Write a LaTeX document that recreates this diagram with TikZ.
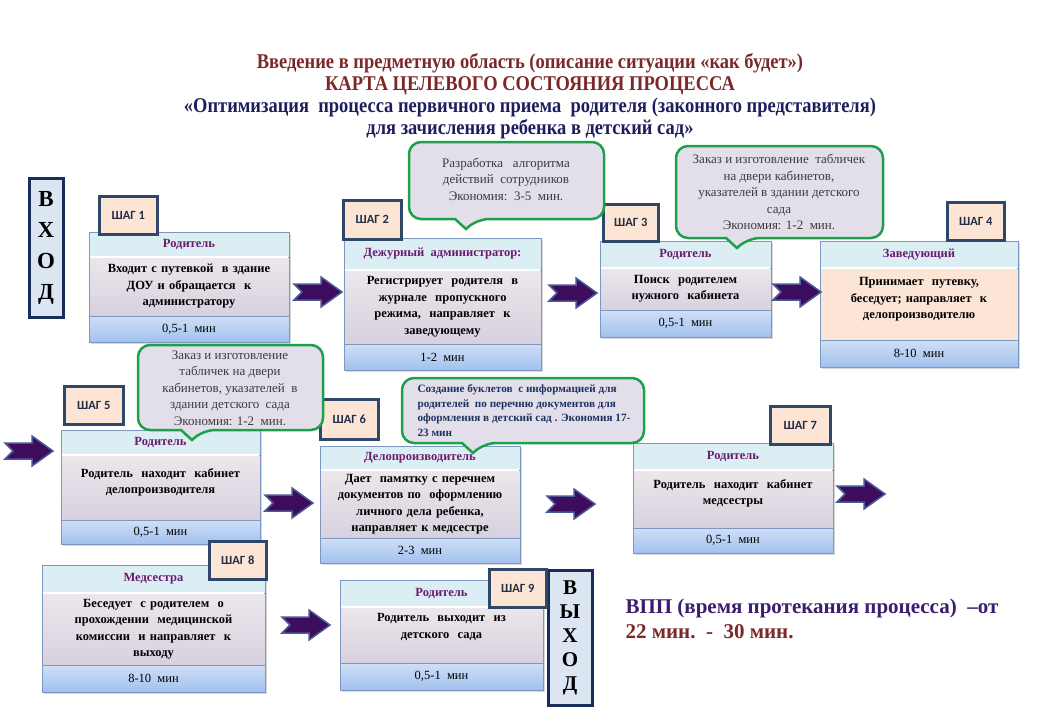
\documentclass[tikz,border=0pt]{standalone}
\usepackage{fontspec}
\setmainfont{Liberation Serif}
\newfontfamily\tabfont{Carlito}
\newfontfamily\titlefont[FakeStretch=0.88]{Liberation Serif}
\usetikzlibrary{positioning,shadows}

\definecolor{cardline}{RGB}{125,152,190}
\definecolor{headfill}{RGB}{219,238,244}
\definecolor{bodytop}{RGB}{236,231,236}
\definecolor{bodybot}{RGB}{214,209,221}
\definecolor{foottop}{RGB}{207,223,246}
\definecolor{footbot}{RGB}{162,193,238}
\definecolor{peach}{RGB}{252,229,213}
\definecolor{tabline}{RGB}{47,72,105}
\definecolor{tabtext}{RGB}{35,45,70}
\definecolor{rolecol}{RGB}{110,25,110}
\definecolor{callfill}{RGB}{226,223,234}
\definecolor{callline}{RGB}{30,160,75}
\definecolor{calltext}{RGB}{60,60,60}
\definecolor{arrfill}{RGB}{62,12,92}
\definecolor{arrline}{RGB}{75,90,150}
\definecolor{maroon}{RGB}{125,40,40}
\definecolor{navy}{RGB}{30,30,95}
\definecolor{vppcol}{RGB}{60,30,110}
\definecolor{gatefill}{RGB}{220,230,242}
\definecolor{gateline}{RGB}{25,45,90}
\definecolor{notecol}{RGB}{30,50,95}

\newcommand\pushup[1]{\rule[-#1]{0pt}{0pt}}
\newcommand\bubble[5]{\draw[bubbleline] ({(#1+#3)/2},#2) [rounded corners=12pt] -- (#3,#2) -- (#3,#4) -- ({#5+11},#4) [sharp corners] -- (#5,{#4+10}) -- ({#5-11},#4) [rounded corners=12pt] -- (#1,#4) -- (#1,#2) -- cycle;}

\tikzset{
  card/.style={draw=cardline, line width=0.7pt, outer sep=0pt, minimum width=#1,
    drop shadow={shadow xshift=2pt, shadow yshift=-2pt, opacity=0.3}},
  head/.style={card=#1, fill=headfill, anchor=north west, text=rolecol,
    font=\fontsize{12.5}{14}\selectfont\bfseries},
  body/.style={card=#1, top color=bodytop, bottom color=bodybot, align=center,
    font=\fontsize{12.5}{16.5}\selectfont\bfseries},
  foot/.style={card=#1, top color=foottop, bottom color=footbot,
    font=\fontsize{12.5}{14}\selectfont},
  tab/.style={draw=tabline, line width=2.5pt, fill=peach, anchor=north west, inner sep=0pt,
    text=tabtext, font=\tabfont\bfseries\fontsize{12.5}{14}\selectfont},
  gate/.style={draw=gateline, line width=3pt, fill=gatefill, align=center, inner sep=0pt,
    font=\fontsize{23}{31}\selectfont\bfseries},
  bubbleline/.style={draw=callline, line width=2.5pt, fill=callfill},
  bubbletext/.style={align=center, text=calltext, font=\fontsize{13}{16.5}\selectfont},
  headline/.style={align=center, font=\titlefont\bfseries\fontsize{21}{22}\selectfont},
  vpp/.style={anchor=west, font=\fontsize{21}{24}\selectfont\bfseries},
  blockarrow/.pic={\draw[fill=arrfill, draw=arrline, line width=1.5pt, line join=miter]
    (-24,-8) -- (3,-8) -- (3,-15) -- (24,0) -- (3,15) -- (3,8) -- (-24,8) -- (-16,0) -- cycle;}
}

\begin{document}
\begin{tikzpicture}[x=1pt,y=-1pt]
\useasboundingbox (0,0) rectangle (1040,720);
\fill[white] (0,0) rectangle (1040,720);

\node[headline, text=maroon] (title1) at (530,74) {Введение в предметную область (описание ситуации «как будет»)\\КАРТА ЦЕЛЕВОГО СОСТОЯНИЯ ПРОЦЕССА};
\node[headline, text=navy] (title2) at (530,118) {«Оптимизация\ \ процесса первичного приема\ \ родителя (законного представителя)\\для зачисления ребенка в детский сад»};

\node[gate, minimum width=34pt, minimum height=139pt] (entry) at (46,247.5) {В\\Х\\О\\Д};
\node[gate, minimum width=44pt, minimum height=135pt, font=\fontsize{21}{24}\selectfont\bfseries] (exit) at (570,637.5) {В\\Ы\\Х\\О\\Д};

\node[head=200pt, minimum height=25pt] (h1) at (89,232) {Родитель};
\node[body=200pt, minimum height=59pt, text width=190pt, below=0pt of h1] (b1) {Входит с путевкой\ \ в здание\\ДОУ и обращается\ \ к\\администратору};
\node[foot=200pt, minimum height=26pt, below=0pt of b1] (f1) {0,5-1\ \ мин};

\node[head=197pt, minimum height=32pt] (h2) at (344,238) {Дежурный\ \ администратор:};
\node[body=197pt, minimum height=74pt, text width=186pt, below=0pt of h2] (b2) {Регистрирует\ \ родителя\ \ в\\журнале\ \ пропускного\\режима,\ \ направляет\ \ к\\заведующему};
\node[foot=197pt, minimum height=26pt, below=0pt of b2] (f2) {1-2\ \ мин};

\node[head=171pt, minimum height=27pt] (h3) at (600,241) {Родитель};
\node[body=171pt, minimum height=42pt, text width=162pt, below=0pt of h3] (b3) {Поиск\ \ родителем\\нужного\ \ кабинета};
\node[foot=171pt, minimum height=27pt, below=0pt of b3] (f3) {0,5-1\ \ мин};

\node[head=198pt, minimum height=27pt] (h4) at (820,241) {Заведующий};
\node[body=198pt, minimum height=72pt, text width=188pt, top color=peach, bottom color=peach, below=0pt of h4] (b4) {Принимает\ \ путевку,\\беседует; направляет\ \ к\\делопроизводителю\pushup{12pt}};
\node[foot=198pt, minimum height=27pt, below=0pt of b4] (f4) {8-10\ \ мин};

\node[head=199pt, minimum height=25pt] (h5) at (61,430) {Родитель};
\node[body=199pt, minimum height=65pt, text width=190pt, below=0pt of h5] (b5) {Родитель\ \ находит\ \ кабинет\\делопроизводителя\pushup{13pt}};
\node[foot=199pt, minimum height=24pt, below=0pt of b5] (f5) {0,5-1\ \ мин};

\node[head=200pt, minimum height=24pt] (h6) at (320,446) {Делопроизводитель};
\node[body=200pt, minimum height=68pt, text width=190pt, below=0pt of h6] (b6) {Дает\ \ памятку с перечнем\\документов по\ \ оформлению\\личного дела ребенка,\\направляет к медсестре};
\node[foot=200pt, minimum height=25pt, below=0pt of b6] (f6) {2-3\ \ мин};

\node[head=200pt, minimum height=27pt] (h7) at (633,443) {Родитель};
\node[body=200pt, minimum height=58pt, text width=190pt, below=0pt of h7] (b7) {Родитель\ \ находит\ \ кабинет\\медсестры\pushup{14pt}};
\node[foot=200pt, minimum height=25pt, below=0pt of b7] (f7) {0,5-1\ \ мин};

\node[head=223pt, minimum height=28pt] (h8) at (42,565) {Медсестра};
\node[body=223pt, minimum height=72pt, text width=210pt, below=0pt of h8] (b8) {Беседует\ \ с родителем\ \ о\\прохождении\ \ медицинской\\комиссии\ \ и направляет\ \ к\\выходу};
\node[foot=223pt, minimum height=27pt, below=0pt of b8] (f8) {8-10\ \ мин};

\node[head=203pt, minimum height=27pt] (h9) at (340,580) {Родитель};
\node[body=203pt, minimum height=56pt, text width=190pt, below=0pt of h9] (b9) {Родитель\ \ выходит\ \ из\\детского\ \ сада\pushup{18pt}};
\node[foot=203pt, minimum height=27pt, below=0pt of b9] (f9) {0,5-1\ \ мин};

\foreach \s in {1,...,9}
  \draw[white, line width=2pt] ([xshift=1pt]b\s.north west) -- ([xshift=-1pt]b\s.north east);

\foreach \n/\x/\y/\w/\h in {1/98/195/58/38, 2/342/199/58/39, 3/602/203/55/37, 4/946/201/57/38, 5/63/385/59/38, 6/319/398/58/40, 7/769/405/60/38, 8/208/540/57/38, 9/488/568/57/38}
  \node[tab, minimum width=\w pt, minimum height=\h pt] (t\n) at (\x,\y) {ШАГ \n};

\bubble{409}{142}{604}{219}{466}
\node[bubbletext] (c1) at (506,179) {Разработка\ \ \ алгоритма\\действий\ \ сотрудников\\Экономия:\ \ 3-5\ \ мин.};
\bubble{676}{146}{883}{238}{737}
\node[bubbletext] (c2) at (779,192) {Заказ и изготовление\ \ табличек\\на двери кабинетов,\\указателей в здании детского\\сада\\Экономия: 1-2\ \ мин.};
\bubble{138}{345}{323}{430}{192}
\node[bubbletext] (c3) at (230,388) {Заказ и изготовление\\табличек на двери\\кабинетов, указателей\ \ в\\здании детского\ \ сада\\Экономия: 1-2\ \ мин.};
\bubble{402}{378}{644}{443}{473}
\node[align=left, anchor=north west, text=notecol, font=\fontsize{11.2}{14.5}\selectfont\bfseries] (c4) at (414,381) {Создание буклетов\ \ с информацией для\\родителей\ \ по перечню документов для\\оформления в детский сад . Экономия 17-\\23 мин};

\foreach \x/\y in {318/292, 573/293, 797/292, 29/451, 289/503, 571/504, 861/494, 306/625}
  \pic at (\x,\y) {blockarrow};

\node[vpp, text=vppcol] (vpp1) at (622,608) {ВПП (время\ протекания\ процесса)\ \ –от};
\node[vpp, text=maroon] (vpp2) at (622,632) {22 мин.\ \ -\ \ 30 мин.};
\end{tikzpicture}
\end{document}
